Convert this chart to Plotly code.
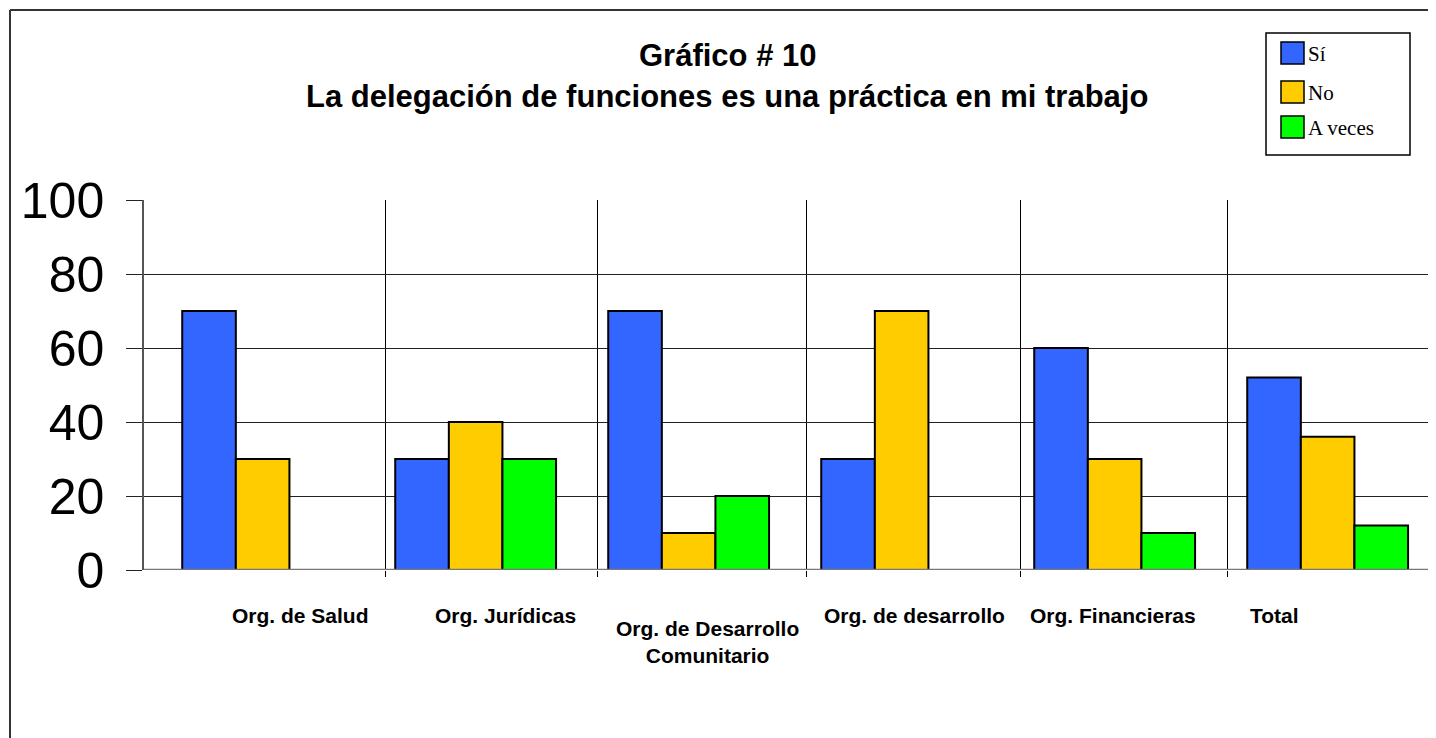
import plotly.graph_objects as go

categories = ["Org. de Salud", "Org. Jurídicas", "Org. de Desarrollo<br>Comunitario",
              "Org. de desarrollo", "Org. Financieras", "Total"]
series_names = ["Sí", "No", "A veces"]
si_values = [70, 30, 70, 30, 60, 52]
no_values = [30, 40, 10, 70, 30, 36]
aveces_values = [0, 30, 20, 0, 10, 12]
y_ticks = [0, 20, 40, 60, 80, 100]

colors = ["#3366FF", "#FFCC00", "#00FF00"]
# layout offsets (style): divider positions and label positions relative to category index
divider_offsets = [0.576, 0.573, 0.555, 0.557, 0.530]
label_offsets = [0.18, 0.14, 0.09, 0.06, -0.01, -0.25]
label_y_px = [615, 615, 642, 615, 615, 615]

OFF = 8  # page body margin
W, H = 1428, 730
L, R = 144 - OFF, 0
T = 200 - OFF
BOT = 570 - OFF
B = H - BOT
pw, ph = W - L - R, H - T - B
XSPAN = 213.0  # px per category (for range)


def px(x):
    return (x - OFF - L) / pw


def py(y):
    return (BOT - (y - OFF)) / ph


x_idx = list(range(len(categories)))

fig = go.Figure()
for name, vals, c in zip(series_names, [si_values, no_values, aveces_values], colors):
    fig.add_trace(go.Bar(x=x_idx, y=vals, name=name, showlegend=False,
                         marker=dict(color=c, line=dict(color="black", width=2))))

dividers = [i + o for i, o in enumerate(divider_offsets)]
x0r = -0.557
x1r = x0r + pw / XSPAN

fig.update_layout(
    width=W, height=H,
    margin=dict(l=L, r=R, t=T, b=B),
    paper_bgcolor="white", plot_bgcolor="white",
    barmode="group", bargap=0.245, bargroupgap=0,
    font=dict(family="Arial, Liberation Sans", color="black"),
    xaxis=dict(range=[x0r, x1r], tickvals=dividers, ticktext=["" for _ in dividers],
               showgrid=True, gridcolor="black", gridwidth=1,
               ticks="outside", ticklen=6, tickcolor="black", showline=False, zeroline=False),
    yaxis=dict(range=[0, 100], tickvals=y_ticks, showgrid=True, gridcolor="#222", gridwidth=1,
               ticks="outside", ticklen=16, tickcolor="#222", showline=True, linecolor="#555", linewidth=1.5,
               zeroline=False, tickfont=dict(size=50, family="Arial, Liberation Sans"),
               ticklabelstandoff=12),
)

# zero baseline
fig.add_shape(type="line", xref="paper", yref="y", x0=0, x1=1, y0=0, y1=0,
              line=dict(color="#777", width=2.5))

# outer border (left and top edges; the rest lies off-page)
fig.add_shape(type="line", xref="paper", yref="paper", x0=px(10), x1=px(10), y0=py(10), y1=-1,
              line=dict(color="#333", width=2))
fig.add_shape(type="line", xref="paper", yref="paper", x0=px(10), x1=1.2, y0=py(10), y1=py(10),
              line=dict(color="#333", width=2))

# title
fig.add_annotation(xref="paper", yref="paper", x=px(727), y=py(55),
                   text="<b>Gráfico # 10</b>", showarrow=False, font=dict(size=31, family="Arial, Liberation Sans"),
                   xanchor="center", yanchor="middle")
fig.add_annotation(xref="paper", yref="paper", x=px(727), y=py(97),
                   text="<b>La delegación de funciones es una práctica en mi trabajo</b>", showarrow=False,
                   font=dict(size=31, family="Arial, Liberation Sans"), xanchor="center", yanchor="middle")

# legend (drawn manually for larger swatches)
fig.add_shape(type="rect", xref="paper", yref="paper", x0=px(1266), x1=px(1410), y0=py(33), y1=py(155),
              line=dict(color="black", width=1.5), fillcolor="white")
sw_top = [42, 81, 116]
for name, c, yt in zip(series_names, colors, sw_top):
    fig.add_shape(type="rect", xref="paper", yref="paper", x0=px(1281), x1=px(1304), y0=py(yt), y1=py(yt + 22),
                  line=dict(color="black", width=1.5), fillcolor=c)
    fig.add_annotation(xref="paper", yref="paper", x=px(1306), y=py(yt + 12), text=name, showarrow=False,
                       xanchor="left", yanchor="middle",
                       font=dict(size=21, family="Liberation Serif, Times New Roman"))

# category labels
for i, (cat, off, ly) in enumerate(zip(categories, label_offsets, label_y_px)):
    fig.add_annotation(xref="x", yref="paper", x=i + off, y=py(ly), text="<b>" + cat + "</b>", showarrow=False,
                       font=dict(size=21, family="Arial, Liberation Sans"), xanchor="center", yanchor="middle",
                       align="center")

fig.write_html("out.html")
